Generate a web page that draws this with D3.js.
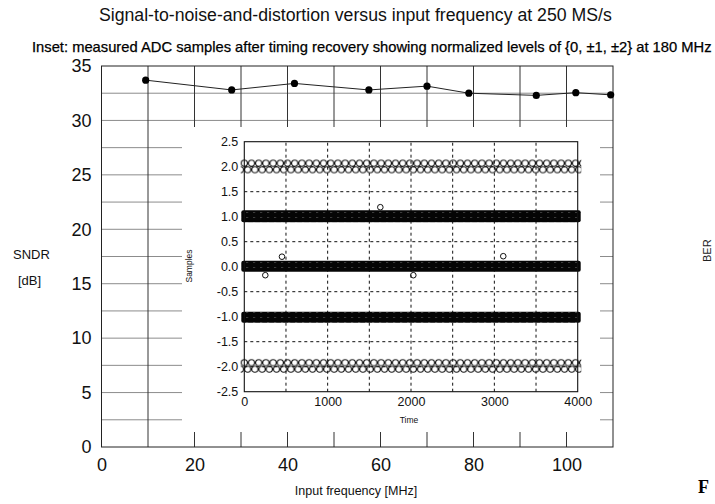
<!DOCTYPE html>
<html>
<head>
<meta charset="utf-8">
<script src="https://cdn.jsdelivr.net/npm/d3@7"></script>
<style>
  html, body { margin: 0; padding: 0; background: #fff; overflow: hidden; }
  svg { display: block; font-family: "Liberation Sans", Arial, Helvetica, sans-serif; }
</style>
</head>
<body>
<script>
// SNDR vs input frequency (main plot)
var sndrFreq = [9.5, 28, 41.5, 57.5, 70, 79, 93.5, 102, 109.5];
var sndrDb = [33.7, 32.8, 33.4, 32.8, 33.15, 32.5, 32.3, 32.55, 32.35];
var freqTicks = [0, 20, 40, 60, 80, 100];
var freqGrid = [10, 20, 30, 40, 50, 60, 70, 80, 90, 100];
var dbTicks = [0, 5, 10, 15, 20, 25, 30, 35];
var dbGrid = [2.5, 5, 7.5, 10, 12.5, 15, 17.5, 20, 22.5, 25, 27.5, 30, 32.5];

// inset: sample levels and the spread of the samples around each level
var insetLevels = [-2, -1, 0, 1, 2];
var levelTop = [-1.92, -0.9, 0.12, 1.13, 2.07];
var levelBottom = [-2.05, -1.12, -0.1, 0.89, 1.94];
var timeTicks = [0, 1000, 2000, 3000, 4000];
var timeGrid = [500, 1000, 1500, 2000, 2500, 3000, 3500];
var sampleTicks = [-2.5, -2, -1.5, -1, -0.5, 0, 0.5, 1, 1.5, 2, 2.5];
var outlierTime = [252, 452, 1632, 2028, 3107];
var outlierValue = [-0.17, 0.2, 1.19, -0.17, 0.21];

var W = 715, H = 504;
var svg = d3.select('body').append('svg').attr('width', W).attr('height', H);
var defs = svg.append('defs');

var x = d3.scaleLinear().domain([0, 110]).range([101.5, 613]);
var y = d3.scaleLinear().domain([0, 35]).range([447, 66]);

// titles
function fitText(sel, size, target) {
  sel.style('font-size', size + 'px');
  var w = sel.node().getComputedTextLength();
  sel.style('font-size', (size * target / w) + 'px');
}
var title = svg.append('text').attr('x', 99).attr('y', 21)
  .style('fill', '#111')
  .text('Signal-to-noise-and-distortion versus input frequency at 250 MS/s');
fitText(title, 19, 513);

var sub = svg.append('text').attr('x', 32).attr('y', 52)
  .style('fill', '#000').style('stroke', '#000').style('stroke-width', 0.25)
  .text('Inset: measured ADC samples after timing recovery showing normalized levels of {0, \u00b11, \u00b12} at 180 MHz');
fitText(sub, 11.5, 680);

// main grid
svg.selectAll('line.hgrid').data(dbGrid).enter().append('line')
  .attr('x1', x(0)).attr('x2', x(110))
  .attr('y1', function(d) { return y(d); }).attr('y2', function(d) { return y(d); })
  .style('stroke', '#8c8c8c').style('stroke-width', 1);
svg.selectAll('line.vgrid').data(freqGrid).enter().append('line')
  .attr('x1', function(d) { return x(d); }).attr('x2', function(d) { return x(d); })
  .attr('y1', y(0)).attr('y2', y(35))
  .style('stroke', '#333').style('stroke-width', 1);

// frame
svg.append('rect').attr('x', x(0)).attr('y', y(35))
  .attr('width', x(110) - x(0)).attr('height', y(0) - y(35))
  .style('fill', 'none').style('stroke', '#222').style('stroke-width', 1);

// SNDR line + points
var line = d3.line()
  .x(function(d, i) { return x(sndrFreq[i]); })
  .y(function(d) { return y(d); });
svg.append('path').datum(sndrDb).attr('d', line)
  .style('fill', 'none').style('stroke', '#222').style('stroke-width', 1);
svg.selectAll('circle.pt').data(sndrDb).enter().append('circle')
  .attr('cx', function(d, i) { return x(sndrFreq[i]); })
  .attr('cy', function(d) { return y(d); })
  .attr('r', 3.6).style('fill', '#000');

// main axes (labels only)
var yAxis = svg.append('g').attr('transform', 'translate(' + x(0) + ',0)')
  .call(d3.axisLeft(y).tickValues(dbTicks).tickSize(0).tickPadding(10));
var xAxis = svg.append('g').attr('transform', 'translate(0,' + y(0) + ')')
  .call(d3.axisBottom(x).tickValues(freqTicks).tickSize(0).tickPadding(11));
[yAxis, xAxis].forEach(function(a) {
  a.select('.domain').remove();
  a.selectAll('text').style('font-size', '18px').style('fill', '#111')
    .style('font-family', '"Liberation Sans", Arial, sans-serif');
});

svg.append('text').attr('x', 13).attr('y', 259).style('font-size', '13px').style('fill', '#111').text('SNDR');
svg.append('text').attr('x', 18).attr('y', 285).style('font-size', '13px').style('fill', '#111').text('[dB]');
svg.append('text').attr('x', 356).attr('y', 495).attr('text-anchor', 'middle')
  .style('font-size', '12.5px').style('fill', '#111').text('Input frequency [MHz]');

// bits at the right edge of the page
svg.append('text').attr('transform', 'translate(711,262) rotate(-90)')
  .style('font-size', '11px').style('fill', '#222').text('BER');
svg.append('text').attr('x', 698).attr('y', 493)
  .style('font-family', '"Liberation Serif", "DejaVu Serif", serif')
  .style('font-weight', 'bold').style('font-size', '18px').style('fill', '#000').text('F');

// ---- inset ----
var xi = d3.scaleLinear().domain([0, 4000]).range([244.3, 577.7]);
var yi = d3.scaleLinear().domain([-2.5, 2.5]).range([391.7, 141.7]);

svg.append('rect').attr('x', 182).attr('y', 127).attr('width', 418).attr('height', 305)
  .style('fill', '#fff');

var inset = svg.append('g');

inset.selectAll('line.ig').data(timeGrid).enter().append('line')
  .attr('x1', function(d) { return xi(d); }).attr('x2', function(d) { return xi(d); })
  .attr('y1', yi(-2.5)).attr('y2', yi(2.5))
  .style('stroke', '#111').style('stroke-width', 1).style('stroke-dasharray', '3,3');
inset.selectAll('line.igh').data(sampleTicks.slice(1, -1)).enter().append('line')
  .attr('x1', xi(0)).attr('x2', xi(4000))
  .attr('y1', function(d) { return yi(d); }).attr('y2', function(d) { return yi(d); })
  .style('stroke', '#111').style('stroke-width', 1).style('stroke-dasharray', '3,3');

// dense rows: nearly solid black with faint gaps
var dense = defs.append('pattern').attr('id', 'dense')
  .attr('patternUnits', 'userSpaceOnUse').attr('width', 7).attr('height', 5)
  .attr('x', xi(0)).attr('y', 0);
dense.append('rect').attr('width', 7).attr('height', 5).style('fill', '#050505');
dense.append('rect').attr('x', 2).attr('y', 2).attr('width', 1.5).attr('height', 0.8).style('fill', '#666');

var ringH = 7.6, ringW = 7.2;
insetLevels.forEach(function(lv, i) {
  var top = yi(levelTop[i]), bot = yi(levelBottom[i]);
  if (Math.abs(lv) === 2) {
    // two overlapping rows of open circles
    [top, bot].forEach(function(cy, k) {
      var id = 'ring' + i + '_' + k;
      var p = defs.append('pattern').attr('id', id)
        .attr('patternUnits', 'userSpaceOnUse').attr('width', ringW).attr('height', ringH)
        .attr('x', xi(0) - ringW / 2 + k * 3.4).attr('y', cy - ringH / 2);
      p.append('circle').attr('cx', ringW / 2).attr('cy', ringH / 2).attr('r', 3.1)
        .style('fill', 'none').style('stroke', '#111').style('stroke-width', 1.1);
      inset.append('rect').attr('x', xi(0) - 3.6).attr('width', xi(4000) - xi(0) + 7.2)
        .attr('y', cy - ringH / 2).attr('height', ringH)
        .style('fill', 'url(#' + id + ')');
    });
  } else {
    inset.append('rect').attr('x', xi(0) - 3).attr('width', xi(4000) - xi(0) + 6)
      .attr('y', top).attr('height', bot - top)
      .attr('rx', 2)
      .style('fill', 'url(#dense)');
  }
});

inset.selectAll('circle.out').data(outlierValue).enter().append('circle')
  .attr('cx', function(d, i) { return xi(outlierTime[i]); })
  .attr('cy', function(d) { return yi(d); })
  .attr('r', 2.8).style('fill', 'none').style('stroke', '#111').style('stroke-width', 1);

inset.append('rect').attr('x', xi(0)).attr('y', yi(2.5))
  .attr('width', xi(4000) - xi(0)).attr('height', yi(-2.5) - yi(2.5))
  .style('fill', 'none').style('stroke', '#111').style('stroke-width', 1.1);

var yiAxis = inset.append('g').attr('transform', 'translate(' + xi(0) + ',0)')
  .call(d3.axisLeft(yi).tickValues(sampleTicks).tickSize(0).tickPadding(6)
    .tickFormat(function(d) { return d.toFixed(1); }));
var xiAxis = inset.append('g').attr('transform', 'translate(0,' + yi(-2.5) + ')')
  .call(d3.axisBottom(xi).tickValues(timeTicks).tickSize(0).tickPadding(5)
    .tickFormat(function(d) { return String(d); }));
[yiAxis, xiAxis].forEach(function(a) {
  a.select('.domain').remove();
  a.selectAll('text').style('font-size', '12.5px').style('fill', '#111')
    .style('font-family', '"Liberation Sans", Arial, sans-serif');
});

inset.append('text').attr('x', 409).attr('y', 423).attr('text-anchor', 'middle')
  .style('font-size', '8.5px').style('fill', '#111').text('Time');
inset.append('text').attr('transform', 'translate(192,266) rotate(-90)').attr('text-anchor', 'middle')
  .style('font-size', '8.5px').style('fill', '#111').text('Samples');
</script>
</body>
</html>
